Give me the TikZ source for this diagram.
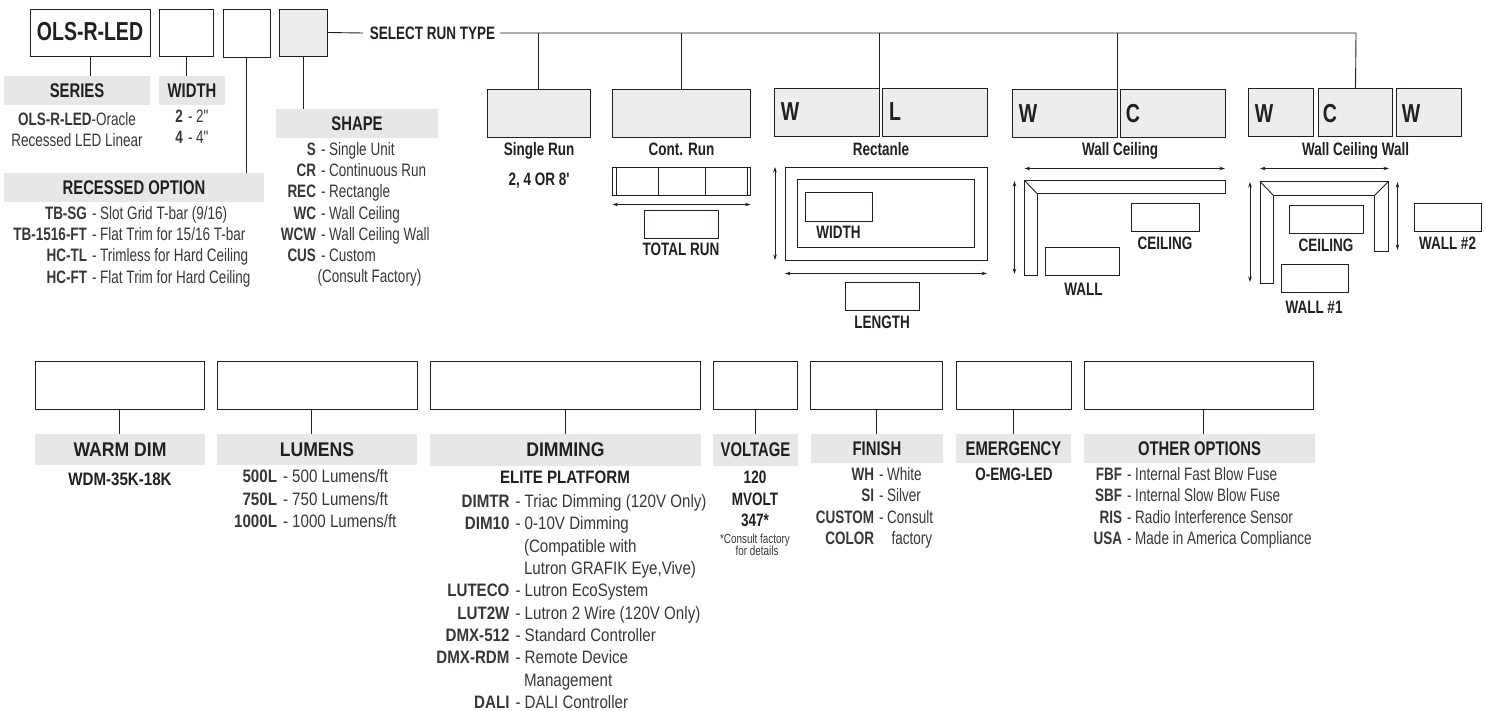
\documentclass[tikz,border=0pt]{standalone}
\usepackage{fontspec}
\setmainfont{Liberation Sans}[FakeStretch=0.75,Ligatures=TeXOff]
\newfontfamily\wf{Liberation Sans}[FakeStretch=0.84,Ligatures=TeXOff]
\newfontfamily\wfh{Liberation Sans}[FakeStretch=0.89,Ligatures=TeXOff]
\usetikzlibrary{arrows.meta}
\definecolor{ink}{HTML}{231F20}
\definecolor{soft}{HTML}{3A3637}
\definecolor{hdrgray}{HTML}{E6E7E8}
\definecolor{runfill}{HTML}{EDEDED}
\newcount\txtcnt
\newcommand{\bx}[7][plainbox]{\node[#1,minimum width={(#5-#3)*1pt},minimum height={(#6-#4)*1pt},anchor=north west] (#2) at (#3,#4) {#7};}
\newcommand{\ctr}[4][lbl]{\global\advance\txtcnt by 1 \node[#1,anchor=base] (t\the\txtcnt) at (#2,#3+6.5) {#4};}
\newcommand{\rowt}[5]{\global\advance\txtcnt by 1 \node[lbl,anchor=base east] (b\the\txtcnt) at (#1,#3+6.5) {\textbf{#4}};\node[lbl,anchor=base west] (r\the\txtcnt) at (#2+1,#3+6.5) {#5};}
\newcommand{\rowtw}[5]{\global\advance\txtcnt by 1 \node[lbl,anchor=base east] (b\the\txtcnt) at (#1,#3+6.5) {\wf\textbf{#4}};\node[lbl,anchor=base west] (r\the\txtcnt) at (#2+1,#3+6.5) {\wf #5};}
\tikzset{
  plainbox/.style={draw=ink,line width=.9pt,fill=white,inner sep=0pt,outer sep=0pt},
  runbox/.style={plainbox,fill=runfill},
  hdr/.style={fill=hdrgray,inner sep=0pt,outer sep=0pt,text=ink,font=\fontsize{19.8}{21}\selectfont\bfseries},
  lbl/.style={inner sep=0pt,outer sep=0pt,text=soft,font=\fontsize{18}{21}\selectfont},
  blbl/.style={lbl,text=ink,font=\fontsize{18}{21}\selectfont\bfseries},
  big/.style={lbl,text=ink,font=\fontsize{26}{28}\selectfont\bfseries},
  tiny/.style={lbl,font=\fontsize{13.2}{14}\selectfont},
  conn/.style={draw=ink,line width=.9pt},
  plan/.style={draw=ink,line width=.9pt},
  dim/.style={draw=ink,line width=.7pt,{Stealth[length=5.5pt,width=3.5pt]}-{Stealth[length=5.5pt,width=3.5pt]}},
}
\begin{document}
\begin{tikzpicture}[x=1pt,y=-1pt]
\useasboundingbox (0,0) rectangle (1486,711);
% ---- top row boxes
\bx{ols}{30}{9}{150}{56}{}
\bx{wid}{159}{9}{213}{56}{}
\bx{rec}{223}{9}{270}{57}{}
\bx[runbox]{shp}{279}{9}{327}{56}{}
\node[big,anchor=center] (olst) at (90,32) {OLS-R-LED};
% headers
\bx[hdr]{hseries}{4}{76}{150}{105}{SERIES}
\bx[hdr]{hwidth}{159}{76}{225}{105}{WIDTH}
\bx[hdr]{hrec}{4}{173}{264}{202}{RECESSED OPTION}
\bx[hdr]{hshape}{276}{109}{438}{138}{SHAPE}
\draw[conn] (ols.south) -- (ols.south |- hseries.north);
\draw[conn] (wid.south) -- (wid.south |- hwidth.north);
\draw[conn] (rec.south) -- (rec.south |- hrec.north);
\draw[conn] (shp.south) -- (shp.south |- hshape.north);
% series / width text
\ctr{77}{119}{\textbf{OLS-R-LED}-Oracle}
\ctr{77}{140}{Recessed LED Linear}
\rowt{183}{187}{116}{2}{- 2"}
\rowt{183}{187}{137}{4}{- 4"}
% recessed
\rowt{87}{91}{213}{TB-SG}{- Slot Grid T-bar (9/16)}
\rowt{87}{91}{234}{TB-1516-FT}{- Flat Trim for 15/16 T-bar}
\rowt{87}{91}{255}{HC-TL}{- Trimless for Hard Ceiling}
\rowt{87}{91}{277}{HC-FT}{- Flat Trim for Hard Ceiling}
% shape
\rowt{316}{320}{149}{S}{- Single Unit}
\rowt{316}{320}{170}{CR}{- Continuous Run}
\rowt{316}{320}{191}{REC}{- Rectangle}
\rowt{316}{320}{213}{WC}{- Wall Ceiling}
\rowt{316}{320}{234}{WCW}{- Wall Ceiling Wall}
\rowt{316}{320}{255}{CUS}{- Custom}
\ctr{369.5}{276}{(Consult Factory)}
% select run type
\node[blbl,anchor=center] (sel) at (432.5,33) {SELECT RUN TYPE};
\coordinate (selin) at (363,33);
\coordinate (trunkstart) at (500,33);
\coordinate (trunkend) at (1356,33);
\draw[conn] (shp.east) -- (selin);
% run boxes
\bx[runbox]{single}{487.5}{89}{590}{137}{}
\bx[runbox]{cont}{612.5}{89}{750.5}{137}{}
\bx[runbox]{rw}{774.5}{88.5}{879.5}{136.5}{}
\bx[runbox]{rl}{882.5}{88.5}{987.5}{136.5}{}
\bx[runbox]{wcw}{1012}{89}{1117.5}{137}{}
\bx[runbox]{wcc}{1120.5}{89}{1225.5}{137}{}
\bx[runbox]{twa}{1248.5}{88.5}{1313.5}{136.5}{}
\bx[runbox]{twc}{1318.5}{88.5}{1392.5}{136.5}{}
\bx[runbox]{twb}{1396.5}{88.5}{1461.5}{136.5}{}
\draw[conn] (trunkstart) -- (trunkend) -- (twc.north);
\draw[conn] (single.north) -- (single.north |- trunkstart);
\draw[conn] (cont.north) -- (cont.north |- trunkstart);
\draw[conn] (rw.north east) -- (rw.north east |- trunkstart);
\draw[conn] (wcw.north east) -- (wcw.north east |- trunkstart);
\ctr[big]{790}{114}{W}
\ctr[big]{895}{114}{L}
\ctr[big]{1028}{116}{W}
\ctr[big]{1133}{116}{C}
\ctr[big]{1264}{116}{W}
\ctr[big]{1330}{116}{C}
\ctr[big]{1411}{116}{W}
\ctr[blbl]{539}{149}{Single Run}
\ctr[blbl]{539}{179}{2, 4 OR 8'}
\ctr[blbl]{681.5}{149}{Cont. Run}
\ctr[blbl]{881}{149}{Rectanle}
\ctr[blbl]{1120}{149}{Wall Ceiling}
\ctr[blbl]{1355.5}{149}{Wall Ceiling Wall}
% continuous plan
\bx{cp}{612.5}{167.5}{750.5}{195.5}{}
\draw[plan] (616,167.5) -- (616,195.5) (747,167.5) -- (747,195.5) (658,167.5) -- (658,195.5) (705.5,167.5) -- (705.5,195.5);
\draw[dim] ([yshift=-9pt]cp.south west) -- ([yshift=-9pt]cp.south east);
\bx{trb}{644.5}{210.5}{718}{238.5}{}
\ctr[blbl]{681}{249}{TOTAL RUN}
% rectangle plan
\bx{rp}{785}{167}{987}{260}{}
\bx{rpi}{797}{179.5}{974.5}{247.5}{}
\bx{wdb}{805}{192.5}{872.5}{221}{}
\ctr[blbl]{838.5}{232}{WIDTH}
\draw[dim] ([xshift=-10pt]rp.north west) -- ([xshift=-10pt]rp.south west);
\draw[dim] ([yshift=-13.5pt]rp.south west) -- ([yshift=-13.5pt]rp.south east);
\bx{lnb}{845}{282}{919}{310.5}{}
\ctr[blbl]{882}{322}{LENGTH}
% wall ceiling plan
\draw[plan] (1024.5,180.5) -- (1225,180.5) -- (1225,193.5) -- (1037,193.5) -- (1037,275) -- (1024.5,275) -- cycle;
\draw[plan] (1024.5,180.5) -- (1037,193.5);
\coordinate (wcha) at (1024.5,168.5); \coordinate (wchb) at (1225,168.5);
\coordinate (wcva) at (1014.5,181); \coordinate (wcvb) at (1014.5,274);
\draw[dim] (wcha) -- (wchb);
\draw[dim] (wcva) -- (wcvb);
\bx{wcce}{1131.5}{203}{1199}{231}{}
\ctr[blbl]{1165}{243}{CEILING}
\bx{wcwl}{1045.5}{247}{1119}{275}{}
\ctr[blbl]{1083.5}{289}{WALL}
% wall ceiling wall plan
\draw[plan] (1260,181.5) -- (1388.5,181.5) -- (1388.5,251.5) -- (1374.5,251.5) -- (1374.5,195.5) -- (1273.5,195.5) -- (1273.5,283) -- (1260,283) -- cycle;
\draw[plan] (1260,181.5) -- (1273.5,195.5) (1388.5,181.5) -- (1374.5,195.5);
\coordinate (wwha) at (1260,168.5); \coordinate (wwhb) at (1389,168.5);
\coordinate (wwva) at (1250,182); \coordinate (wwvb) at (1250,282);
\coordinate (wwra) at (1397.5,182); \coordinate (wwrb) at (1397.5,250);
\draw[dim] (wwha) -- (wwhb);
\draw[dim] (wwva) -- (wwvb);
\draw[dim] (wwra) -- (wwrb);
\bx{wwce}{1289.5}{205}{1363.5}{233}{}
\ctr[blbl]{1326}{245}{CEILING}
\bx{wwb}{1414}{203}{1481}{231}{}
\ctr[blbl]{1447.5}{243}{WALL \#2}
\bx{wwa}{1281}{264}{1348.5}{292}{}
\ctr[blbl]{1314}{307}{WALL \#1}
% ---- bottom row
\bx{bw}{35}{361}{204}{409}{}
\bx{bl}{217}{361}{417}{409}{}
\bx{bd}{430}{361}{700}{409}{}
\bx{bv}{713.5}{361}{797.5}{409}{}
\bx{bf}{810.5}{361}{942.5}{409}{}
\bx{be}{956}{361}{1071}{409}{}
\bx{bo}{1084}{361}{1313}{409}{}
\bx[hdr]{hw}{35}{434}{205}{465}{\wfh WARM DIM}
\bx[hdr]{hl}{217}{434}{417}{465}{\wfh LUMENS}
\bx[hdr]{hd}{430}{434}{701}{466}{\wfh DIMMING}
\bx[hdr]{hv}{713}{434}{798}{466}{VOLTAGE}
\bx[hdr]{hf}{811}{434}{943}{463}{FINISH}
\bx[hdr]{he}{956}{434}{1071}{463}{EMERGENCY}
\bx[hdr]{ho}{1084}{434}{1315}{463}{OTHER OPTIONS}
\draw[conn] (bw.south) -- (bw.south |- hw.north);
\draw[conn] ([xshift=-6pt]bl.south) -- ([xshift=-6pt]bl.south |- hl.north);
\draw[conn] (bd.south) -- (bd.south |- hd.north);
\draw[conn] (bv.south) -- (bv.south |- hv.north);
\draw[conn] (bf.south) -- (bf.south |- hf.north);
\draw[conn] (be.south) -- (be.south |- he.north);
\draw[conn] ([xshift=4.5pt]bo.south) -- ([xshift=4.5pt]bo.south |- ho.north);
\ctr[blbl]{120}{479}{\wf WDM-35K-18K}
\rowtw{277}{282}{476}{500L}{- 500 Lumens/ft}
\rowtw{277}{282}{499}{750L}{- 750 Lumens/ft}
\rowtw{277}{282}{521}{1000L}{- 1000 Lumens/ft}
\ctr[blbl]{565}{477}{\wf ELITE PLATFORM}
\rowtw{509.5}{514.5}{501}{DIMTR}{- Triac Dimming (120V Only)}
\rowtw{509.5}{514.5}{523}{DIM10}{- 0-10V Dimming}
\node[lbl,anchor=base west] (c1) at (524,552.5) {\wf (Compatible with};
\node[lbl,anchor=base west] (c2) at (524,574.5) {\wf Lutron GRAFIK Eye,Vive)};
\rowtw{509.5}{514.5}{590}{LUTECO}{- Lutron EcoSystem}
\rowtw{509.5}{514.5}{613}{LUT2W}{- Lutron 2 Wire (120V Only)}
\rowtw{509.5}{514.5}{635}{DMX-512}{- Standard Controller}
\rowtw{509.5}{514.5}{657}{DMX-RDM}{- Remote Device}
\node[lbl,anchor=base west] (c3) at (524,686.5) {\wf Management};
\rowtw{509.5}{514.5}{702}{DALI}{- DALI Controller}
\ctr[blbl]{755}{477}{120}
\ctr[blbl]{755}{499}{MVOLT}
\ctr[blbl]{755}{520}{347*}
\ctr[tiny]{755}{537}{*Consult factory}
\ctr[tiny]{757}{549}{for details}
\rowt{874}{878}{474}{WH}{- White}
\rowt{874}{878}{495}{SI}{- Silver}
\rowt{874}{878}{517}{CUSTOM}{- Consult}
\node[lbl,anchor=base east] (c4) at (874,544.5) {\textbf{COLOR}};
\node[lbl,anchor=base west] (c5) at (891.5,544.5) {factory};
\ctr[blbl]{1014}{474}{O-EMG-LED}
\rowt{1122}{1126}{474}{FBF}{- Internal Fast Blow Fuse}
\rowt{1122}{1126}{495}{SBF}{- Internal Slow Blow Fuse}
\rowt{1122}{1126}{517}{RIS}{- Radio Interference Sensor}
\rowt{1122}{1126}{538}{USA}{- Made in America Compliance}
\end{tikzpicture}
\end{document}
